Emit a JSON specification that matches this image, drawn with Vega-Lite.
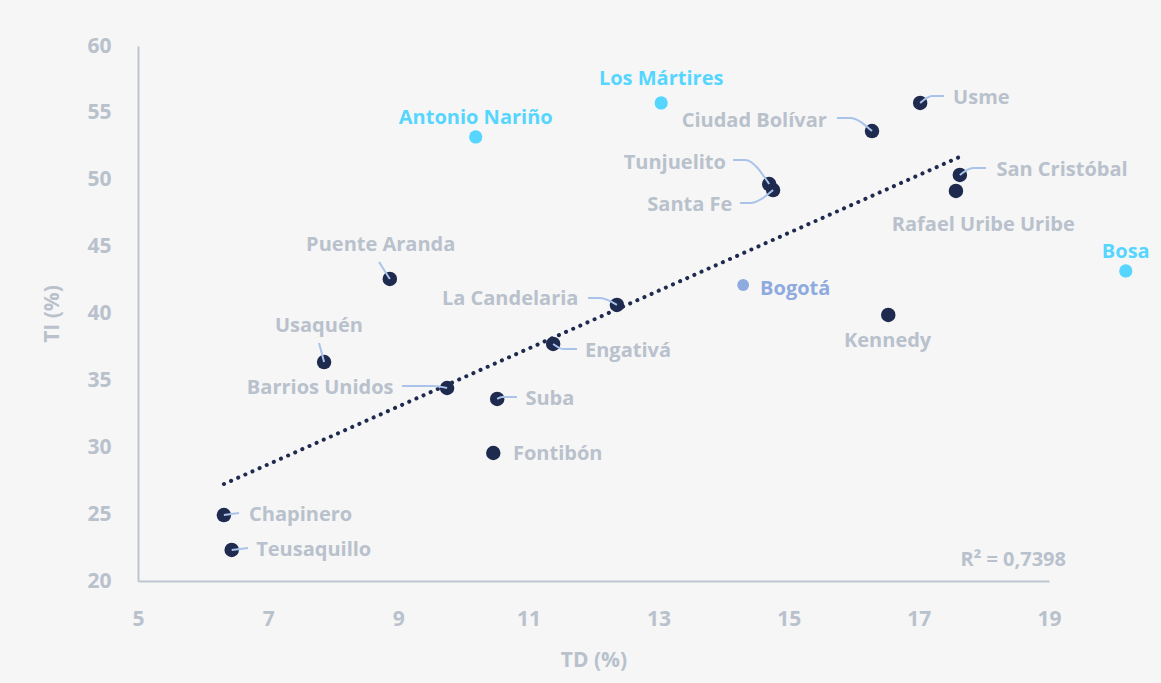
{
  "$schema": "https://vega.github.io/schema/vega-lite/v6.json",
  "width": 911,
  "height": 535,
  "autosize": {"type": "none"},
  "padding": {"left": 138, "top": 46, "right": 112, "bottom": 102},
  "background": "#f6f6f6",
  "config": {
    "view": {"stroke": null},
    "font": "Open Sans",
    "axis": {"grid": false, "ticks": false, "labelFlush": false, "domainColor": "#bcc5d0", "domainWidth": 2, "labelColor": "#b8c1cc", "titleColor": "#b8c1cc", "labelFont": "Open Sans", "titleFont": "Open Sans", "labelFontWeight": "bold", "titleFontWeight": "bold", "labelFontSize": 21, "titleFontSize": 21, "format": "d"}
  },
  "datasets": {
    "localidades": [
      {"nombre": "Los Mártires", "td": 13.04, "ti": 55.74, "grupo": "destacada", "lx": 13.04, "ly": 57.53},
      {"nombre": "Antonio Nariño", "td": 10.19, "ti": 53.2, "grupo": "destacada", "lx": 10.19, "ly": 54.62},
      {"nombre": "Bosa", "td": 20.18, "ti": 43.18, "grupo": "destacada", "lx": 20.18, "ly": 44.6},
      {"nombre": "Bogotá", "td": 14.3, "ti": 42.13, "grupo": "Bogotá", "lx": 15.1, "ly": 41.83},
      {"nombre": "Ciudad Bolívar", "td": 16.28, "ti": 53.64, "grupo": "localidad", "lx": 14.47, "ly": 54.39},
      {"nombre": "Usme", "td": 17.02, "ti": 55.74, "grupo": "localidad", "lx": 17.96, "ly": 56.11},
      {"nombre": "Tunjuelito", "td": 14.7, "ti": 49.68, "grupo": "localidad", "lx": 13.25, "ly": 51.25},
      {"nombre": "Santa Fe", "td": 14.76, "ti": 49.23, "grupo": "localidad", "lx": 13.48, "ly": 48.11},
      {"nombre": "San Cristóbal", "td": 17.63, "ti": 50.36, "grupo": "localidad", "lx": 19.2, "ly": 50.73},
      {"nombre": "Rafael Uribe Uribe", "td": 17.57, "ti": 49.16, "grupo": "localidad", "lx": 17.99, "ly": 46.62},
      {"nombre": "Kennedy", "td": 16.53, "ti": 39.89, "grupo": "localidad", "lx": 16.52, "ly": 37.94},
      {"nombre": "Puente Aranda", "td": 8.87, "ti": 42.58, "grupo": "localidad", "lx": 8.73, "ly": 45.12},
      {"nombre": "La Candelaria", "td": 12.36, "ti": 40.64, "grupo": "localidad", "lx": 10.72, "ly": 41.08},
      {"nombre": "Engativá", "td": 11.38, "ti": 37.72, "grupo": "localidad", "lx": 12.53, "ly": 37.2},
      {"nombre": "Usaquén", "td": 7.86, "ti": 36.37, "grupo": "localidad", "lx": 7.78, "ly": 39.07},
      {"nombre": "Barrios Unidos", "td": 9.75, "ti": 34.43, "grupo": "localidad", "lx": 7.8, "ly": 34.43},
      {"nombre": "Suba", "td": 10.52, "ti": 33.61, "grupo": "localidad", "lx": 11.33, "ly": 33.61},
      {"nombre": "Fontibón", "td": 10.46, "ti": 29.57, "grupo": "localidad", "lx": 11.45, "ly": 29.5},
      {"nombre": "Chapinero", "td": 6.32, "ti": 24.93, "grupo": "localidad", "lx": 7.5, "ly": 24.93},
      {"nombre": "Teusaquillo", "td": 6.44, "ti": 22.32, "grupo": "localidad", "lx": 7.7, "ly": 22.32}
    ],
    "guias": [
      {"nombre": "Tunjuelito", "paso": 1, "td": 14.144, "ti": 51.48},
      {"nombre": "Tunjuelito", "paso": 2, "td": 14.329, "ti": 51.48},
      {"nombre": "Tunjuelito", "paso": 3, "td": 14.7, "ti": 49.68},
      {"nombre": "Santa Fe", "paso": 1, "td": 14.252, "ti": 48.26},
      {"nombre": "Santa Fe", "paso": 2, "td": 14.405, "ti": 48.26},
      {"nombre": "Santa Fe", "paso": 3, "td": 14.76, "ti": 49.23},
      {"nombre": "Usme", "paso": 1, "td": 17.02, "ti": 55.74},
      {"nombre": "Usme", "paso": 2, "td": 17.202, "ti": 56.26},
      {"nombre": "Usme", "paso": 3, "td": 17.387, "ti": 56.26},
      {"nombre": "Ciudad Bolívar", "paso": 1, "td": 15.742, "ti": 54.62},
      {"nombre": "Ciudad Bolívar", "paso": 2, "td": 15.942, "ti": 54.62},
      {"nombre": "Ciudad Bolívar", "paso": 3, "td": 16.28, "ti": 53.64},
      {"nombre": "San Cristóbal", "paso": 1, "td": 17.63, "ti": 50.36},
      {"nombre": "San Cristóbal", "paso": 2, "td": 17.832, "ti": 50.88},
      {"nombre": "San Cristóbal", "paso": 3, "td": 18.032, "ti": 50.88},
      {"nombre": "Usaquén", "paso": 1, "td": 7.782, "ti": 37.79},
      {"nombre": "Usaquén", "paso": 2, "td": 7.86, "ti": 36.37},
      {"nombre": "Barrios Unidos", "paso": 1, "td": 9.057, "ti": 34.58},
      {"nombre": "Barrios Unidos", "paso": 2, "td": 9.534, "ti": 34.58},
      {"nombre": "Barrios Unidos", "paso": 3, "td": 9.75, "ti": 34.43},
      {"nombre": "Engativá", "paso": 1, "td": 11.38, "ti": 37.72},
      {"nombre": "Engativá", "paso": 2, "td": 11.531, "ti": 37.35},
      {"nombre": "Engativá", "paso": 3, "td": 11.747, "ti": 37.35},
      {"nombre": "Suba", "paso": 1, "td": 10.52, "ti": 33.61},
      {"nombre": "Suba", "paso": 2, "td": 10.594, "ti": 33.76},
      {"nombre": "Suba", "paso": 3, "td": 10.824, "ti": 33.76},
      {"nombre": "La Candelaria", "paso": 1, "td": 11.916, "ti": 41.16},
      {"nombre": "La Candelaria", "paso": 2, "td": 12.1, "ti": 41.16},
      {"nombre": "La Candelaria", "paso": 3, "td": 12.36, "ti": 40.64},
      {"nombre": "Puente Aranda", "paso": 1, "td": 8.704, "ti": 43.85},
      {"nombre": "Puente Aranda", "paso": 2, "td": 8.87, "ti": 42.58},
      {"nombre": "Chapinero", "paso": 1, "td": 6.32, "ti": 24.93},
      {"nombre": "Chapinero", "paso": 2, "td": 6.552, "ti": 25.08},
      {"nombre": "Teusaquillo", "paso": 1, "td": 6.44, "ti": 22.32},
      {"nombre": "Teusaquillo", "paso": 2, "td": 6.69, "ti": 22.47}
    ],
    "tendencia": [
      {"td": 6.32, "ti": 27.25},
      {"td": 17.66, "ti": 51.78}
    ],
    "r2": [
      {"texto": "R² = 0,7398", "td": 18.45, "ti": 21.57}
    ]
  },
  "layer": [
    {
      "data": {"name": "tendencia"},
      "mark": {"type": "line", "color": "#1f2a4f", "strokeWidth": 4, "strokeCap": "round", "strokeDash": [0.1, 7.7]},
      "encoding": {
        "x": {"field": "td", "type": "quantitative", "scale": {"domain": [5, 19], "nice": false, "zero": false}, "axis": {"values": [5, 7, 9, 11, 13, 15, 17, 19], "title": "TD (%)", "labelPadding": 27, "titlePadding": 20}},
        "y": {"field": "ti", "type": "quantitative", "scale": {"domain": [20, 60], "nice": false, "zero": false}, "axis": {"values": [20, 25, 30, 35, 40, 45, 50, 55, 60], "title": "TI (%)", "labelPadding": 27, "titlePadding": 24}}
      }
    },
    {
      "data": {"name": "localidades"},
      "mark": {"type": "circle", "opacity": 1},
      "encoding": {
        "x": {"field": "td", "type": "quantitative"},
        "y": {"field": "ti", "type": "quantitative"},
        "color": {"field": "grupo", "type": "nominal", "scale": {"domain": ["localidad", "destacada", "Bogotá"], "range": ["#1f2a4f", "#56d6ff", "#8eaadf"]}, "legend": null},
        "size": {"field": "grupo", "type": "nominal", "scale": {"domain": ["localidad", "destacada", "Bogotá"], "range": [210, 140, 120]}, "legend": null}
      }
    },
    {
      "data": {"name": "guias"},
      "mark": {"type": "line", "color": "#a9c3ea", "strokeWidth": 2, "interpolate": "monotone"},
      "encoding": {
        "x": {"field": "td", "type": "quantitative"},
        "y": {"field": "ti", "type": "quantitative"},
        "detail": {"field": "nombre"},
        "order": {"field": "paso", "type": "quantitative"}
      }
    },
    {
      "data": {"name": "localidades"},
      "mark": {"type": "text", "fontWeight": "bold", "fontSize": 20, "align": "center", "baseline": "middle"},
      "encoding": {
        "x": {"field": "lx", "type": "quantitative"},
        "y": {"field": "ly", "type": "quantitative"},
        "text": {"field": "nombre"},
        "color": {"field": "grupo", "type": "nominal", "scale": {"domain": ["localidad", "destacada", "Bogotá"], "range": ["#b8c1cc", "#56d6ff", "#8eaadf"]}, "legend": null}
      }
    },
    {
      "data": {"name": "r2"},
      "mark": {"type": "text", "fontWeight": "bold", "fontSize": 20, "align": "center", "baseline": "middle", "color": "#b8c1cc"},
      "encoding": {
        "x": {"field": "td", "type": "quantitative"},
        "y": {"field": "ti", "type": "quantitative"},
        "text": {"field": "texto"}
      }
    }
  ],
  "resolve": {"scale": {"color": "independent"}}
}
